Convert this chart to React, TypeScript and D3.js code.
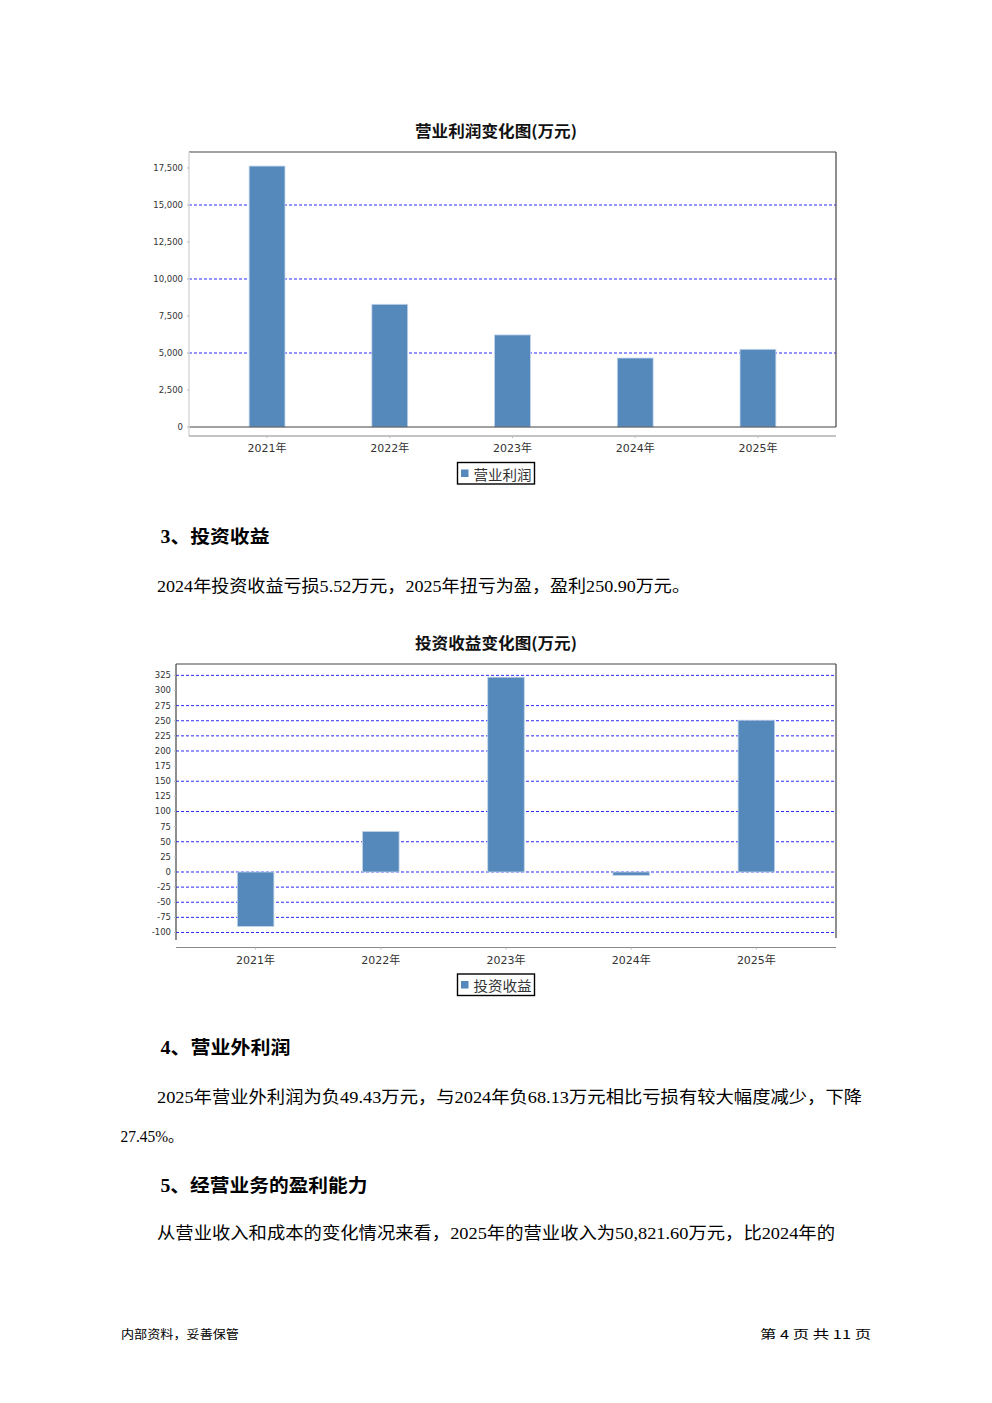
import React from 'react';
import * as d3 from 'd3';

const years = ['2021年', '2022年', '2023年', '2024年', '2025年'];
const operatingProfit = [17630, 8290, 6220, 4660, 5250];
const investIncome = [-90, 67, 322, -5.52, 250.9];

const profitTicks = [0, 2500, 5000, 7500, 10000, 12500, 15000, 17500];
const profitGrid = [5000, 10000, 15000];
const investTicks = [-100, -75, -50, -25, 0, 25, 50, 75, 100, 125, 150, 175, 200, 225, 250, 275, 300, 325];
const investGrid = [325, 275, 250, 225, 200, 150, 100, 50, 0, -25, -50, -75, -100];

const BAR = '#5589bc';
const GRID = '#2a2aff';
const FRAME = '#444';
const CJK = "'Noto Sans CJK SC', sans-serif";
const BODY = "'Liberation Serif', 'Noto Sans CJK SC', serif";

const locale = d3.formatLocale({ decimal: '.', thousands: ',', grouping: [3], currency: ['', ''], minus: '-' });
const fmt = locale.format(',');

type ChartProps = {
  title: string;
  titleX: number;
  titleY: number;
  legend: string;
  values: number[];
  ticks: number[];
  grid: number[];
  domain: [number, number];
  left: number;
  right: number;
  top: number;
  bottom: number;
  axisY: number;
  labelX: number;
  bottomFrame: boolean;
  leftDark: boolean;
  legendY: number;
};

function BarChart(p: ChartProps) {
  const x = d3
    .scaleBand<string>()
    .domain(years)
    .range([p.left, p.right])
    .paddingInner(0.708)
    .paddingOuter(0.49);
  const y = d3.scaleLinear().domain(p.domain).range([p.bottom, p.top]);
  const bw = x.bandwidth();
  return (
    <g>
      <text
        x={p.titleX}
        y={p.titleY}
        textAnchor="middle"
        dominantBaseline="central"
        fontFamily={CJK}
        fontWeight="bold"
        fontSize={15.5}
        fill="#111"
        textLength={162}
        lengthAdjust="spacingAndGlyphs"
      >
        {p.title}
      </text>
      {p.grid.map((g) => (
        <line
          key={'g' + g}
          x1={p.left}
          x2={p.right}
          y1={y(g)}
          y2={y(g)}
          stroke={GRID}
          strokeWidth={1}
          strokeDasharray="3,2"
        />
      ))}
      {p.values.map((v, i) => {
        const y0 = y(Math.max(0, v));
        const y1 = y(Math.min(0, v));
        return (
          <rect
            key={'b' + i}
            x={x(years[i])}
            y={y0}
            width={bw}
            height={Math.max(1.5, y1 - y0)}
            fill={BAR}
            stroke="#c3d5e9"
            strokeWidth={0.8}
          />
        );
      })}
      <line x1={p.left} x2={p.right} y1={p.top} y2={p.top} stroke={FRAME} strokeWidth={1.2} />
      <line x1={p.right} x2={p.right} y1={p.top} y2={p.bottom} stroke={FRAME} strokeWidth={1.2} />
      {p.bottomFrame && (
        <line x1={p.left} x2={p.right} y1={p.bottom} y2={p.bottom} stroke={FRAME} strokeWidth={1.2} />
      )}
      <line
        x1={p.left}
        x2={p.left}
        y1={p.top}
        y2={p.leftDark ? p.bottom + 2 : p.axisY}
        stroke={p.leftDark ? FRAME : '#d8d8d8'}
        strokeWidth={p.leftDark ? 1.2 : 1.5}
      />
      {p.ticks.map((t) => (
        <g key={'t' + t}>
          <line x1={p.left - 2} x2={p.left} y1={y(t)} y2={y(t)} stroke="#bbb" />
          <text
            x={p.labelX}
            y={y(t)}
            textAnchor="end"
            dominantBaseline="central"
            fontFamily="'DejaVu Sans', sans-serif"
            fontSize={8.5}
            fill="#333"
          >
            {fmt(t)}
          </text>
        </g>
      ))}
      <line x1={p.left} x2={p.right} y1={p.axisY} y2={p.axisY} stroke="#8a8a8a" strokeWidth={1.2} />
      {years.map((yr) => {
        const cx = (x(yr) as number) + bw / 2;
        return (
          <g key={'c' + yr}>
            <line x1={cx} x2={cx} y1={p.axisY} y2={p.axisY + 2} stroke="#bbb" />
            <text
              x={cx}
              y={p.axisY + 12.5}
              textAnchor="middle"
              dominantBaseline="central"
              fontFamily="'DejaVu Sans', 'Noto Sans CJK SC', sans-serif"
              fontSize={11}
              fill="#333"
            >
              {yr}
            </text>
          </g>
        );
      })}
      <rect x={457.5} y={p.legendY} width={77} height={21.5} fill="#fff" stroke="#000" strokeWidth={1.4} />
      <rect x={461} y={p.legendY + 7} width={7.5} height={7.5} fill={BAR} />
      <text
        x={473.5}
        y={p.legendY + 11}
        dominantBaseline="central"
        fontFamily={CJK}
        fontSize={14}
        fill="#333"
        textLength={58}
        lengthAdjust="spacingAndGlyphs"
      >
        {p.legend}
      </text>
    </g>
  );
}

type Line = { text: string; x: number; y: number; w: number; bold?: boolean; size?: number; font?: string };

const textLines: Line[] = [
  { text: '3、投资收益', x: 160.5, y: 537, w: 109, bold: true, size: 18.5 },
  { text: '2024年投资收益亏损5.52万元，2025年扭亏为盈，盈利250.90万元。', x: 157, y: 586, w: 533 },
  { text: '4、营业外利润', x: 160.5, y: 1048, w: 130, bold: true, size: 18.5 },
  { text: '2025年营业外利润为负49.43万元，与2024年负68.13万元相比亏损有较大幅度减少，下降', x: 157, y: 1097, w: 705 },
  { text: '27.45%。', x: 120.5, y: 1136, w: 63 },
  { text: '5、经营业务的盈利能力', x: 160.5, y: 1186, w: 207, bold: true, size: 18.5 },
  { text: '从营业收入和成本的变化情况来看，2025年的营业收入为50,821.60万元，比2024年的', x: 157, y: 1233, w: 678 },
  { text: '内部资料，妥善保管', x: 121, y: 1333, w: 118, size: 12, font: CJK },
  { text: '第 4 页  共 11 页', x: 760, y: 1333, w: 111, size: 12, font: CJK },
];

export default function App() {
  return (
    <svg
      width={992}
      height={1403}
      viewBox="0 0 992 1403"
      style={{ position: 'absolute', left: 0, top: 0, background: '#fff' }}
    >
      <rect x={0} y={0} width={992} height={1403} fill="#fff" />
      <BarChart
        title="营业利润变化图(万元)"
        titleX={496}
        titleY={130}
        legend="营业利润"
        values={operatingProfit}
        ticks={profitTicks}
        grid={profitGrid}
        domain={[0, 18580]}
        left={189}
        right={836}
        top={152}
        bottom={427}
        axisY={436}
        labelX={183}
        bottomFrame={true}
        leftDark={false}
        legendY={462.5}
      />
      <BarChart
        title="投资收益变化图(万元)"
        titleX={496}
        titleY={642}
        legend="投资收益"
        values={investIncome}
        ticks={investTicks}
        grid={investGrid}
        domain={[-109.1, 343.8]}
        left={176}
        right={836}
        top={664}
        bottom={938}
        axisY={947.5}
        labelX={171}
        bottomFrame={false}
        leftDark={true}
        legendY={974}
      />
      {textLines.map((l, i) => (
        <text
          key={i}
          x={l.x}
          y={l.y}
          dominantBaseline="central"
          fontFamily={l.font ?? BODY}
          fontWeight={l.bold ? 'bold' : 'normal'}
          fontSize={l.size ?? 16.5}
          fill="#000"
          textLength={l.w}
          lengthAdjust="spacingAndGlyphs"
        >
          {l.text}
        </text>
      ))}
    </svg>
  );
}
